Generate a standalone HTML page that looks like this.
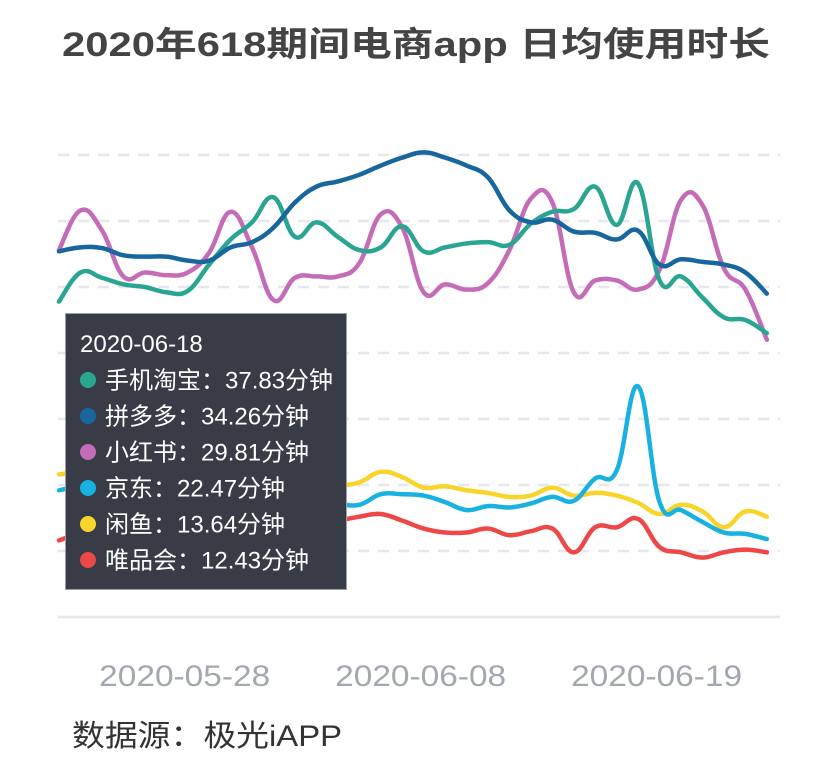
<!DOCTYPE html>
<html><head><meta charset="utf-8">
<style>
html,body{margin:0;padding:0;background:#fff;}
svg{display:block;}
</style></head>
<body>
<svg id="chart" width="833" height="772" viewBox="0 0 833 772" xmlns="http://www.w3.org/2000/svg" font-family="'Liberation Sans','Noto Sans CJK SC',sans-serif">
<text x="416" y="56" text-anchor="middle" font-size="34" font-weight="bold" fill="#444" textLength="708" lengthAdjust="spacingAndGlyphs">2020年618期间电商app 日均使用时长</text>
<g id="grid"></g>
<g id="xaxis"></g>
<g id="series"></g>
<g id="tooltip"></g>
<text x="72" y="746" font-size="30" fill="#333" textLength="270" lengthAdjust="spacingAndGlyphs">数据源：极光iAPP</text>
</svg>
<script>
const dates = ["2020-05-22","2020-05-23","2020-05-24","2020-05-25","2020-05-26","2020-05-27","2020-05-28","2020-05-29","2020-05-30","2020-05-31","2020-06-01","2020-06-02","2020-06-03","2020-06-04","2020-06-05","2020-06-06","2020-06-07","2020-06-08","2020-06-09","2020-06-10","2020-06-11","2020-06-12","2020-06-13","2020-06-14","2020-06-15","2020-06-16","2020-06-17","2020-06-18","2020-06-19","2020-06-20","2020-06-21","2020-06-22","2020-06-23","2020-06-24"];
const seriesNames = ["手机淘宝","拼多多","小红书","京东","闲鱼","唯品会"];
const seriesColors = ["#2aa592","#17669e","#c56cb8","#19b2e0","#f9d52c","#ee4747"];
const taobao = [28.9,31.1,30.7,30.2,30.0,29.6,29.7,31.7,33.6,34.9,36.8,33.8,34.9,33.8,32.8,33.0,34.6,32.7,33.0,33.3,33.4,33.2,34.8,35.7,35.9,37.6,34.7,37.83,30.5,30.8,29.2,27.7,27.5,26.5];
const pdd = [32.7,33.0,32.95,32.4,32.3,32.3,32.0,32.0,33.0,33.4,34.5,36.4,37.6,38.0,38.5,39.2,39.8,40.2,39.8,39.2,38.3,35.8,34.9,35.1,34.2,34.1,33.6,34.26,31.7,32.1,31.9,31.7,31.1,29.5];
const xhs = [32.8,35.8,34.3,30.8,31.1,30.9,31.1,32.6,35.7,33.0,29.0,30.7,30.8,30.8,31.8,35.5,34.5,29.6,30.2,29.8,30.3,32.8,36.7,36.4,29.6,30.5,30.5,29.81,31.3,36.6,36.2,31.4,29.8,26.0];
const jd = [14.6,14.9,15.0,14.8,14.6,14.5,14.4,14.5,14.4,14.2,14.2,14.0,13.9,13.6,13.5,14.3,14.3,14.2,13.7,13.1,13.4,13.3,13.6,14.1,13.8,15.5,16.1,22.47,13.7,13.1,12.2,11.4,11.3,10.9];
const xianyu = [15.8,16.0,16.1,15.9,15.5,15.2,15.1,15.2,15.2,15.0,14.9,15.1,15.2,15.0,15.2,16.0,15.6,14.8,14.9,14.6,14.4,14.1,14.2,14.8,14.2,14.4,14.2,13.64,12.8,13.5,13.0,11.8,13.0,12.6];
const vip = [10.8,11.4,11.9,12.2,12.3,12.43,12.3,12.2,12.0,11.8,11.8,12.0,12.1,12.3,12.6,12.8,12.3,11.7,11.4,11.4,11.7,11.2,11.5,11.7,9.9,11.8,11.8,12.43,10.3,9.9,9.5,9.9,10.1,9.9];
const yTicks = [5,10,15,20,25,30,35,40];
const xLabelIdx = [6,17,28];
const tooltipIdx = 27;

const NS = "http://www.w3.org/2000/svg";
const X0 = 59, STEP = 21.45, YBASE = 617, YMIN = 5, PXU = 13.2;
function xs(i){ return X0 + i*STEP; }
function ys(v){ return YBASE - (v - YMIN)*PXU; }
function mk(tag, attrs, parent){ const e=document.createElementNS(NS,tag); for(const k in attrs) e.setAttribute(k,attrs[k]); parent.appendChild(e); return e; }

const grid = document.getElementById('grid');
yTicks.forEach((t,k)=>{
  const y = ys(t);
  const l = mk('line',{x1:58,x2:780,y1:y,y2:y,stroke:k===0?'#e3e6ec':'#e6e8ee','stroke-width':2.5,'stroke-dasharray':k===0?'none':'11 9'},grid);
  
  
});
const xa = document.getElementById('xaxis');
xLabelIdx.forEach(i=>{
  const t = mk('text',{x:xs(i)-3,y:686,'text-anchor':'middle','font-size':30,fill:'#a3a7b0',textLength:171,lengthAdjust:'spacingAndGlyphs'},xa);
  t.textContent = dates[i];
  
  
});

function smoothPath(vals){
  const pts = vals.map((v,i)=>[xs(i),ys(v)]);
  let d = 'M'+pts[0][0]+','+pts[0][1];
  const s = 0.2;
  for(let i=0;i<pts.length-1;i++){
    const p0=pts[Math.max(0,i-1)], p1=pts[i], p2=pts[i+1], p3=pts[Math.min(pts.length-1,i+2)];
    const c1=[p1[0]+(p2[0]-p0[0])*s, p1[1]+(p2[1]-p0[1])*s];
    const c2=[p2[0]-(p3[0]-p1[0])*s, p2[1]-(p3[1]-p1[1])*s];
    d += ' C'+c1[0]+','+c1[1]+' '+c2[0]+','+c2[1]+' '+p2[0]+','+p2[1];
  }
  return d;
}
const allSeries = [taobao,pdd,xhs,jd,xianyu,vip];
const sg = document.getElementById('series');
const lineNames = ['line-taobao','line-pinduoduo','line-xiaohongshu','line-jd','line-xianyu','line-vip'];
[5,4,3,2,0,1].forEach(k=>{
  const p = mk('path',{d:smoothPath(allSeries[k]),fill:'none',stroke:seriesColors[k],'stroke-width':4.5,'stroke-linejoin':'round','stroke-linecap':'round'},sg);
  
  
});

const tg = document.getElementById('tooltip');
const r = mk('rect',{x:65.5,y:313.5,width:281,height:276,fill:'#373c47',stroke:'#9aa0aa','stroke-width':1},tg);


const dt = mk('text',{x:80,y:352,'font-size':24,fill:'#fff'},tg);
dt.textContent = dates[tooltipIdx];


seriesNames.forEach((n,k)=>{
  const cy = 380 + k*36;
  const c = mk('circle',{cx:88,cy:cy,r:8,fill:seriesColors[k]},tg);
  
  
  const t = mk('text',{x:105,y:cy+8.5,'font-size':24,fill:'#fff'},tg);
  t.textContent = n + '：' + allSeries[k][tooltipIdx].toFixed(2) + '分钟';
  
  
});
</script>
</body></html>
